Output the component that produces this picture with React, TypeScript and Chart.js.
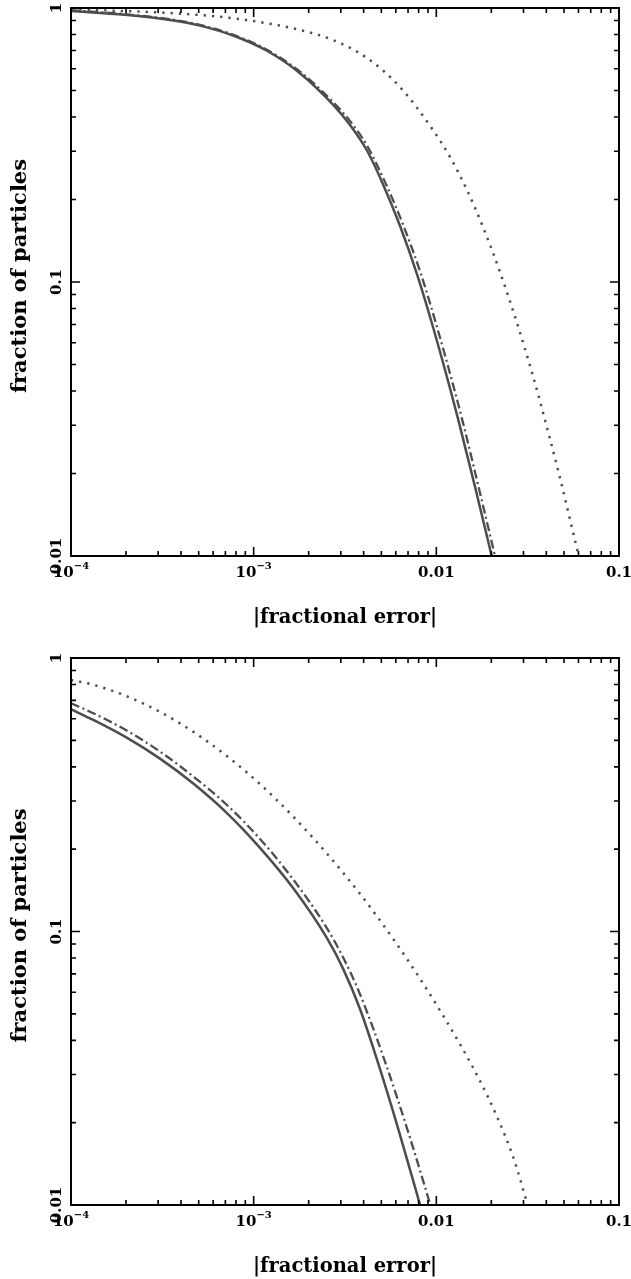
import { useEffect, useRef } from 'react';
import { Chart, registerables } from 'chart.js';

Chart.register(...registerables);

// ---- Tick definitions ----
const xTickValues = [1e-4, 1e-3, 1e-2, 1e-1];
const xTickLabels = ['10^−4', '10^−3', '0.01', '0.1'];
const yTickValues = [0.01, 0.1, 1];
const yTickLabels = ['0.01', '0.1', '1'];
const xTitle = '|fractional error|';
const yTitle = 'fraction of particles';

// ---- Top panel data ----
const topSolidX = [1.0e-4, 1.975e-4, 3.804e-4, 5.083e-4, 7.706e-4, 1.1828e-3, 1.7929e-3, 2.718e-3, 3.3685e-3, 4.172e-3, 5.105e-3, 6.324e-3, 7.834e-3, 9.588e-3, 1.188e-2, 1.3138e-2, 1.6279e-2, 2.0091e-2];
const topSolidY = [0.9751, 0.9445, 0.8965, 0.8625, 0.7937, 0.6981, 0.5781, 0.4439, 0.3741, 0.3019, 0.2276, 0.1604, 0.1068, 0.06851, 0.04096, 0.03173, 0.01792, 0.01];

const topDashX = [1.0e-4, 1.975e-4, 3.804e-4, 5.083e-4, 7.706e-4, 1.1828e-3, 1.7929e-3, 2.718e-3, 3.3685e-3, 4.172e-3, 5.3017e-3, 6.6097e-3, 8.242e-3, 1.0083e-2, 1.2495e-2, 1.3815e-2, 1.7013e-2, 2.0944e-2];
const topDashY = [0.9817, 0.9493, 0.9018, 0.8676, 0.799, 0.7034, 0.586, 0.4537, 0.3869, 0.3149, 0.2276, 0.1604, 0.1068, 0.06851, 0.04096, 0.03173, 0.01792, 0.01];

const topDotX = [1.0e-4, 5.083e-4, 9.916e-4, 1.7929e-3, 2.718e-3, 4.172e-3, 6.324e-3, 9.588e-3, 1.188e-2, 1.4719e-2, 1.8007e-2, 2.2307e-2, 2.7634e-2, 3.3821e-2, 3.7404e-2, 4.7525e-2, 6.016e-2];
const topDotY = [0.9916, 0.9429, 0.8965, 0.8312, 0.7642, 0.657, 0.5148, 0.3587, 0.2859, 0.2167, 0.1587, 0.1088, 0.07087, 0.04539, 0.03557, 0.01926, 0.01];

// ---- Bottom panel data ----
const botSolidX = [1.0e-4, 1.3246e-4, 2.0178e-4, 3.0708e-4, 4.6717e-4, 7.1183e-4, 1.083e-3, 1.6481e-3, 2.5107e-3, 3.0948e-3, 3.8208e-3, 4.9136e-3, 6.324e-3, 8.1489e-3];
const botSolidY = [0.6497, 0.5935, 0.5114, 0.4286, 0.3474, 0.2715, 0.2022, 0.1438, 0.09492, 0.07284, 0.05205, 0.03144, 0.01806, 0.01];

const botDashX = [1.0e-4, 1.3246e-4, 2.0178e-4, 3.0708e-4, 4.6717e-4, 7.1183e-4, 1.083e-3, 1.6481e-3, 2.5107e-3, 3.0948e-3, 3.8208e-3, 5.2352e-3, 7.1748e-3, 9.2782e-3];
const botDashY = [0.6833, 0.6283, 0.5429, 0.4548, 0.3687, 0.2907, 0.218, 0.1548, 0.1031, 0.08016, 0.05898, 0.03345, 0.01762, 0.01];

const botDotX = [1.0e-4, 1.3246e-4, 2.0178e-4, 3.0708e-4, 4.6717e-4, 7.1183e-4, 1.083e-3, 1.6481e-3, 2.5107e-3, 3.8208e-3, 5.8137e-3, 8.8548e-3, 1.3729e-2, 1.7337e-2, 2.1399e-2, 2.638e-2, 3.1633e-2];
const botDotY = [0.831, 0.7978, 0.7248, 0.6352, 0.537, 0.4387, 0.346, 0.2629, 0.1931, 0.1373, 0.09381, 0.06158, 0.03789, 0.02842, 0.02116, 0.01493, 0.01];

const LINE_COLOR = '#4d4d4d';
const FONT = '"DejaVu Serif", "Liberation Serif", serif';

function pts(xs: number[], ys: number[]) {
  return xs.map((x, i) => ({ x, y: ys[i] }));
}

const framePlugin = {
  id: 'frame',
  afterDatasetsDraw(chart: any) {
    const { ctx, chartArea: a, scales } = chart;
    const xs = scales.x;
    const ys = scales.y;
    ctx.save();
    ctx.strokeStyle = '#000';
    ctx.fillStyle = '#000';
    ctx.lineWidth = 1.6;
    ctx.lineCap = 'butt';
    // x ticks (inward, bottom and top)
    for (let d = -4; d <= -1; d++) {
      for (let m = 1; m <= 9; m++) {
        const v = m * Math.pow(10, d);
        if (v > 0.1 * 1.0001) break;
        const px = xs.getPixelForValue(v);
        const len = m === 1 ? 9 : 5;
        ctx.beginPath();
        ctx.moveTo(px, a.bottom);
        ctx.lineTo(px, a.bottom - len);
        ctx.moveTo(px, a.top);
        ctx.lineTo(px, a.top + len);
        ctx.stroke();
      }
    }
    // y ticks (inward, left and right)
    for (let d = -2; d <= 0; d++) {
      for (let m = 1; m <= 9; m++) {
        const v = m * Math.pow(10, d);
        if (v > 1.0001) break;
        const py = ys.getPixelForValue(v);
        const len = m === 1 ? 9 : 5;
        ctx.beginPath();
        ctx.moveTo(a.left, py);
        ctx.lineTo(a.left + len, py);
        ctx.moveTo(a.right, py);
        ctx.lineTo(a.right - len, py);
        ctx.stroke();
      }
    }
    // frame
    ctx.lineWidth = 2;
    ctx.strokeRect(a.left, a.top, a.right - a.left, a.bottom - a.top);

    // x tick labels
    const baseFont = `bold 15px ${FONT}`;
    const supFont = `bold 10px ${FONT}`;
    ctx.textBaseline = 'alphabetic';
    xTickValues.forEach((v, i) => {
      const px = xs.getPixelForValue(v);
      const lbl = xTickLabels[i];
      const by = a.bottom + 21;
      if (lbl.includes('^')) {
        const [b, e] = lbl.split('^');
        ctx.font = baseFont;
        const w1 = ctx.measureText(b).width;
        ctx.font = supFont;
        const w2 = ctx.measureText(e).width;
        const x0 = px - (w1 + w2) / 2;
        ctx.textAlign = 'left';
        ctx.font = baseFont;
        ctx.fillText(b, x0, by);
        ctx.font = supFont;
        ctx.fillText(e, x0 + w1, by - 8);
      } else {
        ctx.font = baseFont;
        ctx.textAlign = 'center';
        ctx.fillText(lbl, px, by);
      }
    });

    // y tick labels (rotated)
    ctx.font = baseFont;
    ctx.textAlign = 'center';
    yTickValues.forEach((v, i) => {
      const py = ys.getPixelForValue(v);
      ctx.save();
      ctx.translate(a.left - 10, py);
      ctx.rotate(-Math.PI / 2);
      ctx.fillText(yTickLabels[i], 0, 0);
      ctx.restore();
    });

    // axis titles
    ctx.textAlign = 'center';
    ctx.font = `bold 19.5px ${FONT}`;
    ctx.fillText(xTitle, (a.left + a.right) / 2, a.bottom + 67);
    ctx.font = `bold 21px ${FONT}`;
    ctx.save();
    ctx.translate(26, (a.top + a.bottom) / 2 - 6);
    ctx.rotate(-Math.PI / 2);
    ctx.fillText(yTitle, 0, 0);
    ctx.restore();
    ctx.restore();
  },
};

type PanelProps = {
  top: number;
  height: number;
  padTop: number;
  padBottom: number;
  solid: { x: number; y: number }[];
  dash: { x: number; y: number }[];
  dot: { x: number; y: number }[];
};

function Panel({ top, height, padTop, padBottom, solid, dash, dot }: PanelProps) {
  const ref = useRef<HTMLCanvasElement | null>(null);
  useEffect(() => {
    if (!ref.current) return;
    const common = {
      borderColor: LINE_COLOR,
      pointRadius: 0,
      fill: false,
      cubicInterpolationMode: 'monotone' as const,
      borderCapStyle: 'butt' as const,
    };
    const chart = new Chart(ref.current, {
      type: 'line',
      data: {
        datasets: [
          { ...common, label: 'dotted', data: dot, borderWidth: 2.5, borderDash: [2.3, 6] },
          { ...common, label: 'dash-dot', data: dash, borderWidth: 2.3, borderDash: [9, 3.5, 2, 3.5] },
          { ...common, label: 'solid', data: solid, borderWidth: 2.5 },
        ],
      },
      options: {
        responsive: false,
        animation: false,
        layout: { padding: { left: 71, right: 12, top: padTop, bottom: padBottom } },
        plugins: { legend: { display: false }, tooltip: { enabled: false } },
        scales: {
          x: { type: 'logarithmic', min: 1e-4, max: 0.1, display: false },
          y: { type: 'logarithmic', min: 0.01, max: 1, display: false },
        },
      },
      plugins: [framePlugin],
    } as any);
    return () => chart.destroy();
  }, []);
  return (
    <canvas
      ref={ref}
      width={631}
      height={height}
      style={{ position: 'absolute', left: 0, top, width: 631, height, display: 'block' }}
    />
  );
}

export default function App() {
  return (
    <div style={{ position: 'absolute', left: 0, top: 0, width: 631, height: 1279, background: '#fff' }}>
      <Panel top={0} height={640} padTop={8} padBottom={84} solid={pts(topSolidX, topSolidY)} dash={pts(topDashX, topDashY)} dot={pts(topDotX, topDotY)} />
      <Panel top={640} height={639} padTop={18} padBottom={74} solid={pts(botSolidX, botSolidY)} dash={pts(botDashX, botDashY)} dot={pts(botDotX, botDotY)} />
    </div>
  );
}
